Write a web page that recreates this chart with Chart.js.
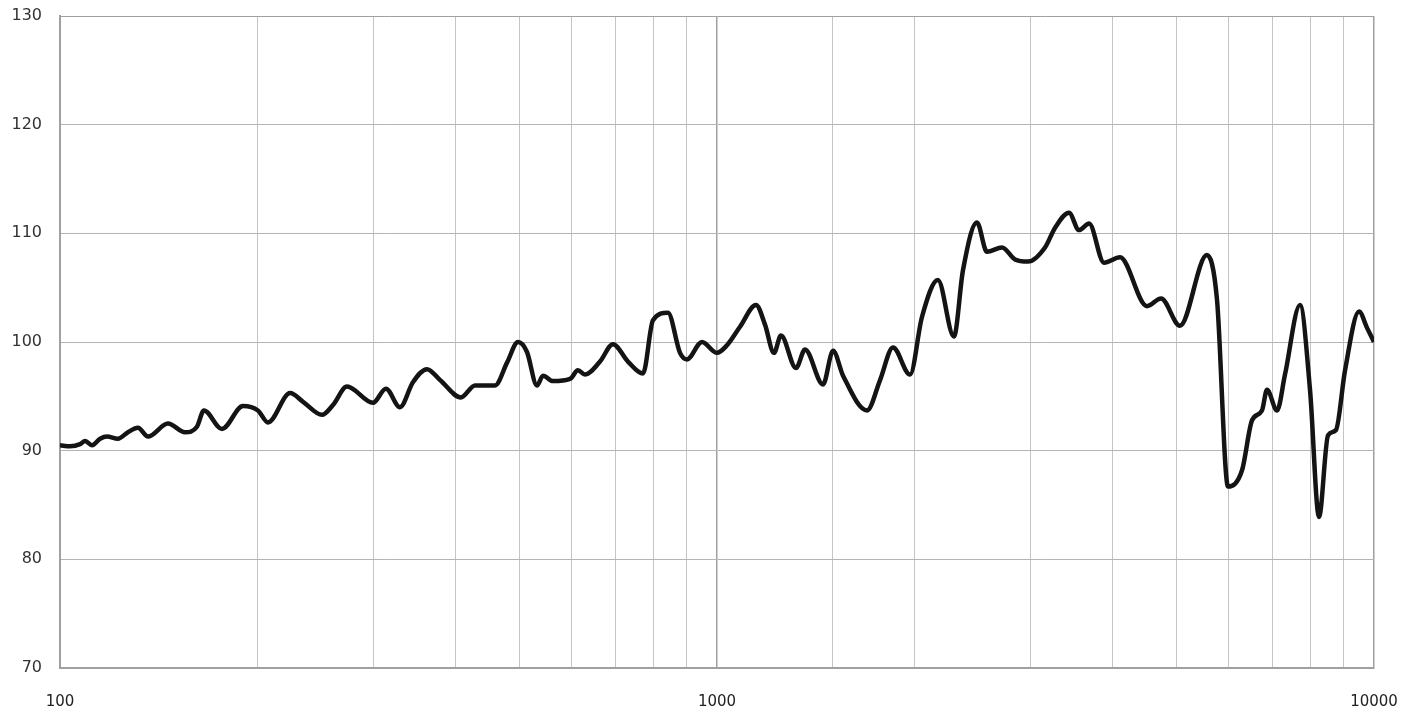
<!DOCTYPE html>
<html>
<head>
<meta charset="utf-8">
<script src="https://cdn.jsdelivr.net/npm/chart.js@4.4.1/dist/chart.umd.min.js"></script>
<style>
  html, body { margin: 0; padding: 0; background: #fff; }
  #wrap { width: 1420px; height: 715px; }
</style>
</head>
<body>
<div id="wrap"><canvas id="responseChart"></canvas></div>
<script>
// Frequency response data
const freqs = [
  100, 103.6, 107.3, 109.2, 111.9, 115.1, 117.9, 122.5, 126.9, 131.4,
  136.1, 146, 155, 161.6, 165.6, 176.4, 189.9, 200.1, 207.3, 224,
  234.4, 250.5, 260.3, 273.4, 299.5, 313.4, 329.2, 344.5, 361.9, 378.8,
  407.6, 428.2, 459.3, 479.1, 497.9, 513.6, 532.1, 543.5, 563, 597.4,
  614.3, 629.6, 663.6, 694.5, 731.9, 771.5, 799, 842.1, 878.4, 900.2,
  948.8, 1000, 1035.6, 1083.9, 1146.5, 1183.2, 1221.1, 1251.3, 1319, 1361.3,
  1450, 1502, 1555.5, 1692, 1771, 1853, 1967, 2051, 2169, 2294,
  2368, 2487, 2576, 2715, 2842, 2974, 3157, 3269, 3434, 3556,
  3684, 3882, 4106, 4513, 4741, 5066, 5568, 5768, 5995, 6297,
  6522, 6753, 6873, 7119, 7320, 7716, 7991, 8247, 8511, 8753,
  9035, 9489, 9759, 10000
];
const spl = [
  90.5, 90.4, 90.6, 90.9, 90.5, 91.1, 91.3, 91.1, 91.7, 92.1,
  91.3, 92.5, 91.7, 92.2, 93.7, 92.0, 94.1, 93.7, 92.6, 95.3,
  94.5, 93.3, 94.2, 95.9, 94.4, 95.7, 94.0, 96.3, 97.5, 96.5,
  94.9, 96.0, 96.0, 98.1, 100.0, 99.1, 96.0, 96.9, 96.4, 96.6,
  97.4, 97.0, 98.2, 99.8, 98.2, 97.1, 102.0, 102.7, 99.0, 98.4,
  100.0, 99.0, 99.7, 101.4, 103.4, 101.6, 99.0, 100.6, 97.6, 99.3,
  96.1, 99.2, 96.9, 93.7, 96.5, 99.5, 97.0, 102.3, 105.7, 100.5,
  106.6, 111.0, 108.3, 108.7, 107.6, 107.4, 108.7, 110.5, 111.9, 110.3,
  110.9, 107.3, 107.8, 103.3, 104.0, 101.5, 108.0, 103.9, 86.7, 88.2,
  92.8, 93.7, 95.6, 93.7, 97.0, 103.4, 95.6, 83.9, 91.4, 91.9,
  97.4, 102.8, 101.3, 100.0
];
const xLabels = [100, 1000, 10000];
const yMin = 70, yMax = 130, yStep = 10;

const isMajor = v => xLabels.includes(v);

new Chart(document.getElementById('responseChart').getContext('2d'), {
  type: 'line',
  data: {
    datasets: [{
      data: freqs.map((f, i) => ({ x: f, y: spl[i] })),
      borderColor: '#141414',
      borderWidth: 4.5,
      pointRadius: 0,
      fill: false,
      cubicInterpolationMode: 'monotone'
    }]
  },
  options: {
    responsive: true,
    maintainAspectRatio: false,
    animation: false,
    layout: { padding: { top: 16, right: 46, bottom: 0, left: 0 } },
    plugins: { legend: { display: false }, tooltip: { enabled: false } },
    scales: {
      x: {
        type: 'logarithmic',
        min: 100,
        max: 10000,
        afterFit: s => { s.height = 47; },
        border: { color: '#a0a0a0', width: 2 },
        grid: {
          tickLength: 25,
          tickColor: 'rgba(0,0,0,0)',
          color: ctx => (ctx.tick && isMajor(ctx.tick.value)) ? '#a0a0a0' : '#c4c4c4',
          lineWidth: ctx => (ctx.tick && isMajor(ctx.tick.value)) ? 1.5 : 1
        },
        ticks: {
          autoSkip: false,
          maxRotation: 0,
          padding: 0,
          color: '#222',
          font: { family: 'DejaVu Sans', size: 15 },
          callback: v => isMajor(v) ? String(v) : ''
        }
      },
      y: {
        min: yMin,
        max: yMax,
        afterFit: s => { s.width = 60; },
        border: { color: '#a0a0a0', width: 2 },
        grid: {
          tickLength: 18,
          tickColor: 'rgba(0,0,0,0)',
          color: ctx => (ctx.tick && ctx.tick.value === yMax) ? '#a0a0a0' : '#b4b4b4',
          lineWidth: 1
        },
        ticks: {
          stepSize: yStep,
          padding: 0,
          color: '#333',
          font: { family: 'DejaVu Sans', size: 16 }
        }
      }
    }
  }
});
</script>
</body>
</html>
